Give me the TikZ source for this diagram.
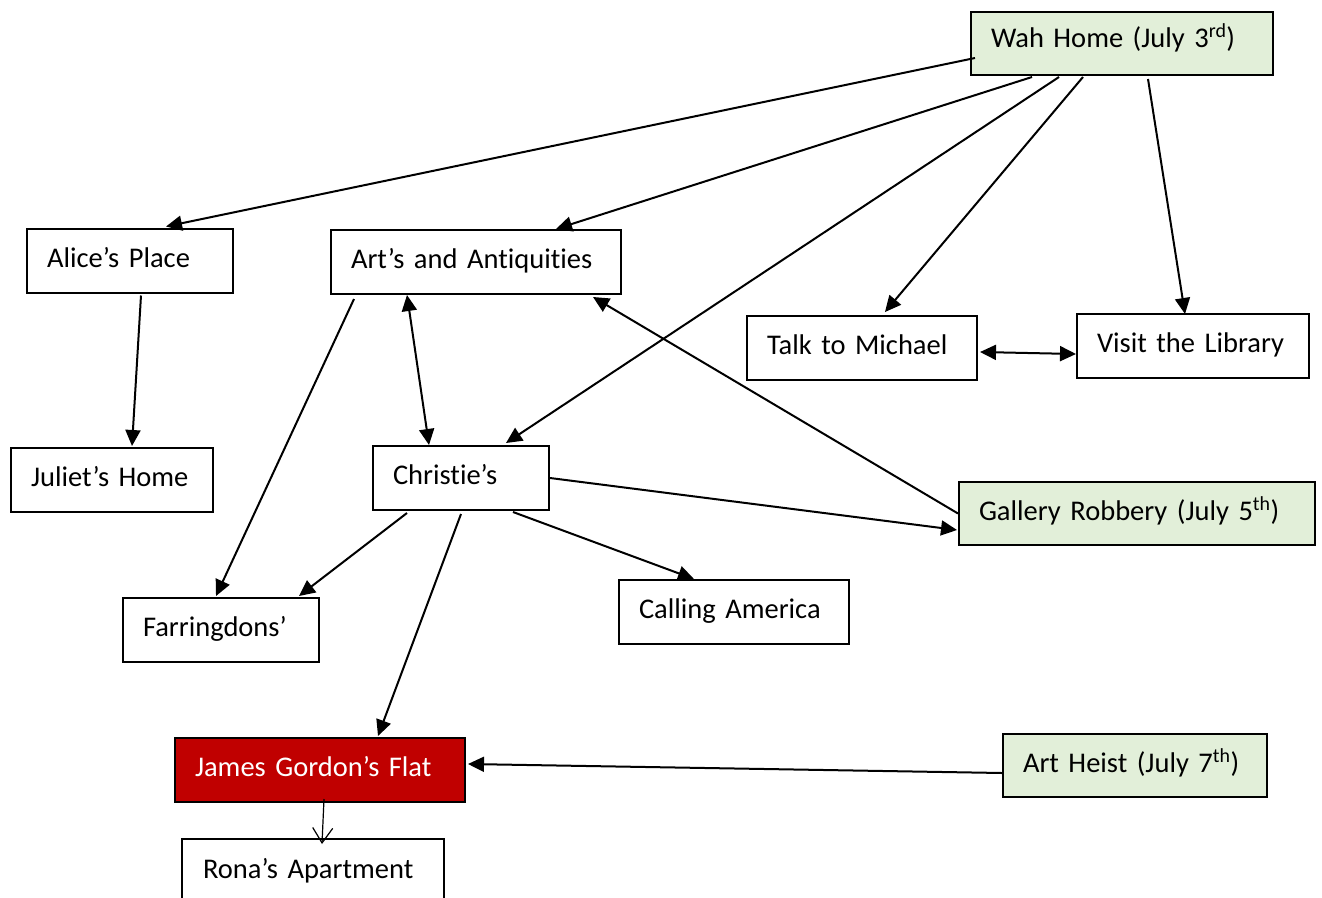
\documentclass[tikz,border=0pt]{standalone}
\usepackage{fontspec}
\setmainfont{Carlito}[Ligatures=NoCommon]
\usetikzlibrary{arrows.meta,calc}
\definecolor{lgreen}{HTML}{E2EFD9}
\definecolor{dred}{HTML}{C00000}
\tikzset{
  box/.style={draw=black, line width=2pt, rectangle, inner xsep=20pt, inner ysep=0pt,
    align=left, font=\fontsize{28.5}{32}\selectfont, text height=20pt, text depth=7pt, minimum height=64pt},
  grn/.style={box, fill=lgreen, minimum height=63pt},
  redbox/.style={box, fill=dred, text=white},
  conn/.style={line width=2pt, -{Triangle[length=16pt,width=15pt]}},
  dconn/.style={line width=2pt, {Triangle[length=16pt,width=15pt]}-{Triangle[length=16pt,width=15pt]}},
  thin/.style={line width=1.2pt, -{Straight Barb[length=15pt,width=20pt,line width=1.2pt]}},
}
\begin{document}
\begin{tikzpicture}[x=1pt,y=-1pt]
\useasboundingbox (0,0) rectangle (1322,897);
\node[grn, text width=262pt, text height=17pt, text depth=10pt] (wah) at (1122,43.5) {Wah Home (July 3\textsuperscript{rd})};
\node[box, text width=166pt] (alice) at (130,260.5) {Alice’s Place};
\node[box, text width=250pt] (arts) at (476,262) {Art’s and Antiquities};
\node[box, text width=190pt] (talk) at (862,348) {Talk to Michael};
\node[box, text width=192pt] (visit) at (1193,346) {Visit the Library};
\node[box, text width=162pt] (juliet) at (112,480) {Juliet’s Home};
\node[box, text width=136pt] (christie) at (461,478) {Christie’s};
\node[grn, text width=316pt] (gallery) at (1137,513.5) {Gallery Robbery (July 5\textsuperscript{th})};
\node[box, text width=156pt] (farr) at (221,630) {Farringdons’};
\node[box, text width=190pt] (calling) at (734,612) {Calling America};
\node[redbox, text width=250pt] (james) at (320,770) {James Gordon’s Flat};
\node[grn, text width=224pt] (heist) at (1135,765.5) {Art Heist (July 7\textsuperscript{th})};
\node[box, draw=none, text width=220pt] (rona) at (313,872) {Rona’s Apartment};
\draw[line width=2pt] (rona.south west) -- (rona.north west) -- (rona.north east) -- (rona.south east);

\draw[conn] ($(wah.west)+(5,14.5)$) -- ($(alice.north west)+(140,-1)$);
\draw[conn] ($(wah.south west)+(62,1)$) -- ($(arts.north west)+(226,0)$);
\draw[conn] ($(wah.south west)+(89,1)$) -- ($(christie.north west)+(134,-2)$);
\draw[conn] ($(wah.south west)+(113,1)$) -- ($(talk.north west)+(139,-3)$);
\draw[conn] ($(wah.south west)+(178,3)$) -- ($(visit.north west)+(109,1)$);
\draw[conn] ($(alice.south west)+(115,2)$) -- ($(juliet.north west)+(122,-1)$);
\draw[conn] ($(arts.south west)+(24,4)$) -- ($(farr.north west)+(94,-1)$);
\draw[dconn] ($(arts.south west)+(77,0)$) -- ($(christie.north west)+(57,0)$);
\draw[conn] (gallery.west) -- ($(arts.south west)+(263,2)$);
\draw[conn] (christie.east) -- ($(gallery.south west)+(-1,-16)$);
\draw[conn] ($(christie.south west)+(35,2)$) -- ($(farr.north west)+(177,-1)$);
\draw[conn] ($(christie.south west)+(141,1)$) -- ($(calling.north west)+(76,0)$);
\draw[conn] ($(christie.south west)+(89,3)$) -- ($(james.north west)+(204,-1)$);
\draw[dconn] ($(talk.east)+(2,4)$) -- ($(visit.west)+(0,8)$);
\draw[conn] ($(heist.west)+(0,7.5)$) -- ($(james.east)+(2,-6)$);
\draw[thin] ($(james.south west)+(150,-4)$) -- ($(rona.north west)+(140,5)$);
\end{tikzpicture}
\end{document}
